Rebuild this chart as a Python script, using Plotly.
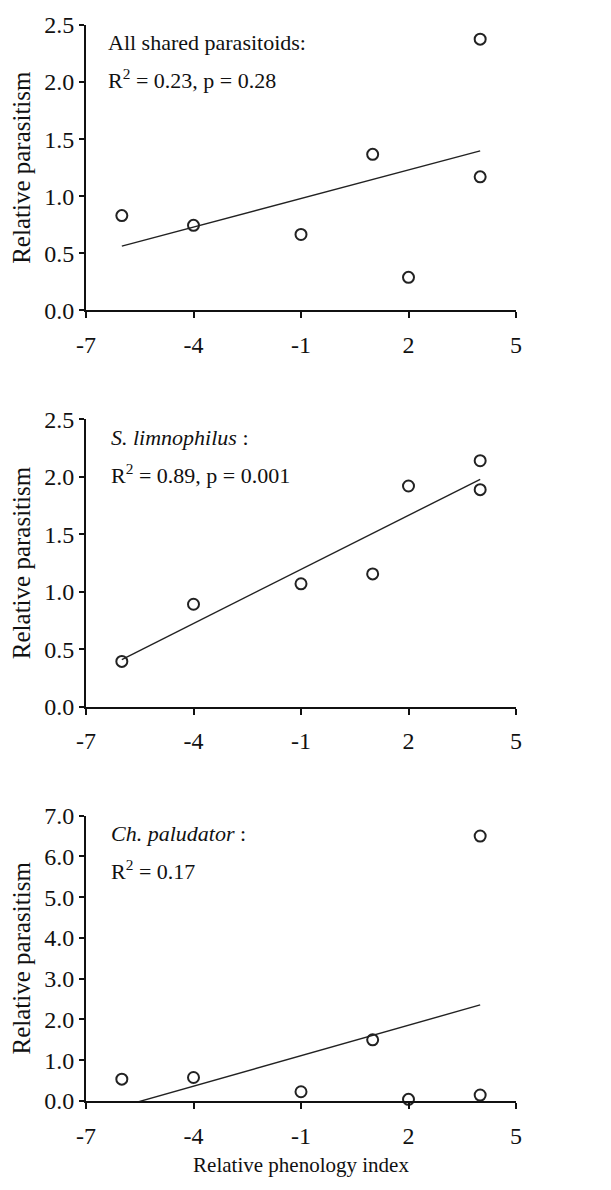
import numpy as np
import plotly.graph_objects as go

# ---------------- data ----------------
phenology = [-6, -4, -1, 1, 2, 4, 4]
all_shared = [0.83, 0.745, 0.665, 1.367, 0.289, 2.376, 1.17]
s_limnophilus = [0.394, 0.891, 1.069, 1.155, 1.92, 2.14, 1.888]
ch_paludator = [0.535, 0.576, 0.227, 1.50, 0.04, 6.50, 0.146]

y_tick_vals_12 = [0.0, 0.5, 1.0, 1.5, 2.0, 2.5]
y_tick_text_12 = ["0.0", "0.5", "1.0", "1.5", "2.0", "2.5"]
y_tick_vals_3 = [0.0, 1.0, 2.0, 3.0, 4.0, 5.0, 6.0, 7.0]
y_tick_text_3 = ["0.0", "1.0", "2.0", "3.0", "4.0", "5.0", "6.0", "7.0"]
x_tick_vals = [-7, -4, -1, 2, 5]
x_tick_text = ["-7", "-4", "-1", "2", "5"]

panel_labels = [
    ("All shared parasitoids:", "R<sup>2</sup> = 0.23, p = 0.28"),
    ("<i>S. limnophilus</i> :", "R<sup>2</sup> = 0.89, p = 0.001"),
    ("<i>Ch. paludator</i> :", "R<sup>2</sup> = 0.17"),
]
series = [all_shared, s_limnophilus, ch_paludator]
y_ranges = [[0, 2.5], [0, 2.5], [0, 7.0]]

# ---------------- layout geometry (pixels) ----------------
W, H = 611, 1190
ML, MR, MT, MB = 86, 95, 15, 89
plot_h = H - MT - MB
panels_px = [(15, 303), (413, 703), (813, 1101)]


def py(px):
    return (H - MB - px) / plot_h


def pxx(px):
    return (px - ML) / (W - ML - MR)


FONT = "Liberation Serif, Times New Roman, serif"
INK = "#111"
fig = go.Figure()

for i, (ys, (l1, l2), yr, (top, bot)) in enumerate(zip(series, panel_labels, y_ranges, panels_px)):
    n = i + 1
    xa = "x" if n == 1 else f"x{n}"
    ya = "y" if n == 1 else f"y{n}"
    x = np.array(phenology, dtype=float)
    y = np.array(ys, dtype=float)
    slope, intercept = np.polyfit(x, y, 1)
    xl = np.array([x.min(), x.max()])
    yl = slope * xl + intercept
    fig.add_trace(go.Scatter(x=xl, y=yl, mode="lines", xaxis=xa, yaxis=ya,
                             line=dict(color="#222", width=1.4), showlegend=False,
                             hoverinfo="skip"))
    fig.add_trace(go.Scatter(x=x, y=y, mode="markers", xaxis=xa, yaxis=ya,
                             marker=dict(symbol="circle-open", size=11,
                                         color="#222", line=dict(width=2, color="#222")),
                             cliponaxis=False, showlegend=False))

    yt_vals = y_tick_vals_3 if n == 3 else y_tick_vals_12
    yt_text = y_tick_text_3 if n == 3 else y_tick_text_12
    xaxis = dict(domain=[0, 1], range=[-7, 5], anchor=ya,
                 tickmode="array", tickvals=x_tick_vals, ticktext=x_tick_text,
                 ticks="outside", ticklen=6, tickwidth=1.5, tickcolor=INK,
                 showline=True, linecolor=INK, linewidth=2,
                 showgrid=False, zeroline=False,
                 tickfont=dict(family=FONT, size=24, color=INK),
                 ticklabelstandoff=6)
    if n == 3:
        xaxis["title"] = dict(text="Relative phenology index",
                              font=dict(family=FONT, size=21, color=INK),
                              standoff=10)
    yaxis = dict(domain=[py(bot), py(top)], range=yr, anchor=xa,
                 tickmode="array", tickvals=yt_vals, ticktext=yt_text,
                 ticks="outside", ticklen=5, tickwidth=1.5, tickcolor=INK,
                 showline=True, linecolor=INK, linewidth=2,
                 showgrid=False, zeroline=False,
                 tickfont=dict(family=FONT, size=24, color=INK),
                 title=dict(text="Relative parasitism",
                            font=dict(family=FONT, size=25, color=INK),
                            standoff=6))
    fig.layout[f"xaxis{'' if n == 1 else n}"] = xaxis
    fig.layout[f"yaxis{'' if n == 1 else n}"] = yaxis

    lx = pxx(106 if n == 1 else 109)
    fig.add_annotation(text=l1, xref="paper", yref="paper",
                       x=lx, y=py(top + 18),
                       xanchor="left", yanchor="middle", showarrow=False,
                       font=dict(family=FONT, size=22, color=INK))
    fig.add_annotation(text=l2, xref="paper", yref="paper",
                       x=lx, y=py(top + 55),
                       xanchor="left", yanchor="middle", showarrow=False,
                       font=dict(family=FONT, size=22, color=INK))

fig.update_layout(width=W, height=H,
                  margin=dict(l=ML, r=MR, t=MT, b=MB),
                  paper_bgcolor="white", plot_bgcolor="white")

fig.write_html("out.html")
